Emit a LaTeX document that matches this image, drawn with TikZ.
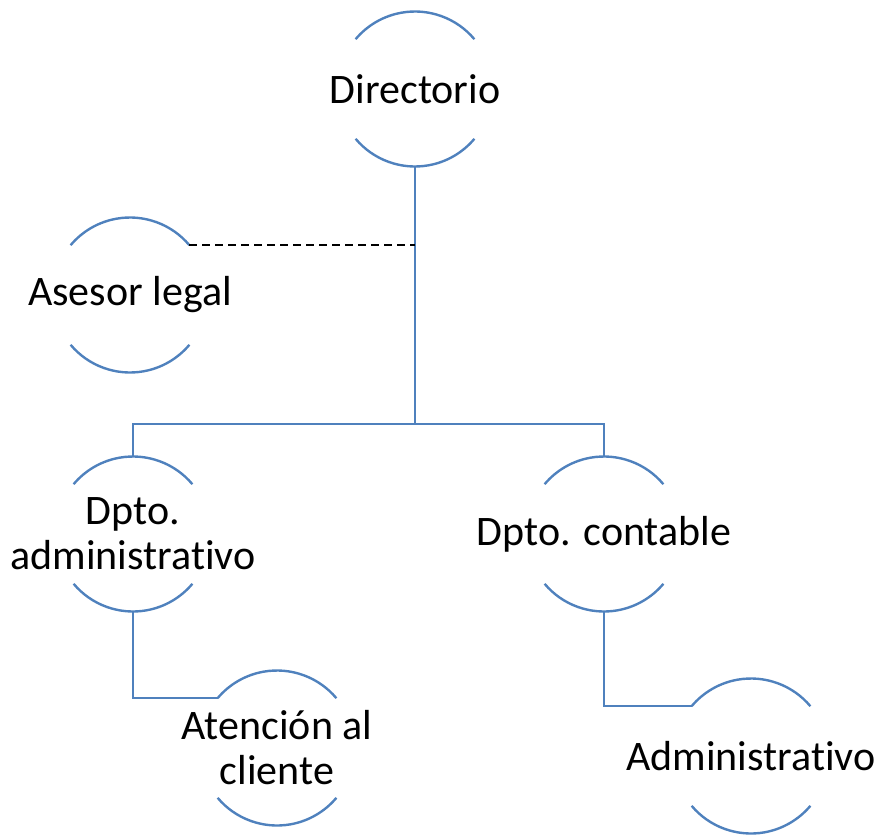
\documentclass[tikz,border=0pt]{standalone}
\usepackage{fontspec}
\setmainfont{Carlito}[Ligatures=NoCommon]
\definecolor{ringblue}{RGB}{79,129,189}
\tikzset{
  unit/.style={circle, minimum size=155pt, inner sep=0pt, outer sep=0pt},
  txt/.style={align=center, font=\fontsize{42}{45}\selectfont, inner sep=0pt},
  ring/.style={draw=ringblue, line width=2.4pt},
  link/.style={draw=ringblue, line width=2.4pt},
  dashline/.style={draw=black, line width=1.6pt, dash pattern=on 8pt off 5pt}
}
\begin{document}
\begin{tikzpicture}[x=1pt, y=1pt]
  \useasboundingbox (0,0) rectangle (878,-835);
  % nodes
  \node[unit, label={[txt]center:Directorio}] (dir) at (415,-89) {};
  \node[unit, label={[txt]center:Asesor legal}] (ase) at (130,-295) {};
  \node[unit, label={[txt]center:Dpto.\\administrativo}] (adm) at (133,-534) {};
  \node[unit, label={[txt]center:Dpto. contable}] (cont) at (604,-534) {};
  \node[unit, label={[txt]center:Atención al\\cliente}] (ate) at (277,-748) {};
  \node[unit, label={[txt]center:Administrativo}] (admv) at (751,-756) {};
  % rings
  \foreach \n in {dir,ase,adm,cont,ate,admv}{
    \draw[ring] (\n.40) arc (40:140:77.5);
    \draw[ring] (\n.220) arc (220:320:77.5);
  }
  % connectors
  \coordinate (bar) at (415,-424);
  \draw[link] (dir.south) -- (bar);
  \draw[link] (adm.north) |- (bar) -| (cont.north);
  \draw[dashline] (ase.40) -- (ase.40 -| dir.south);
  \draw[link] (adm.south) |- (ate.140);
  \draw[link] (cont.south) |- (admv.140);
\end{tikzpicture}
\end{document}
